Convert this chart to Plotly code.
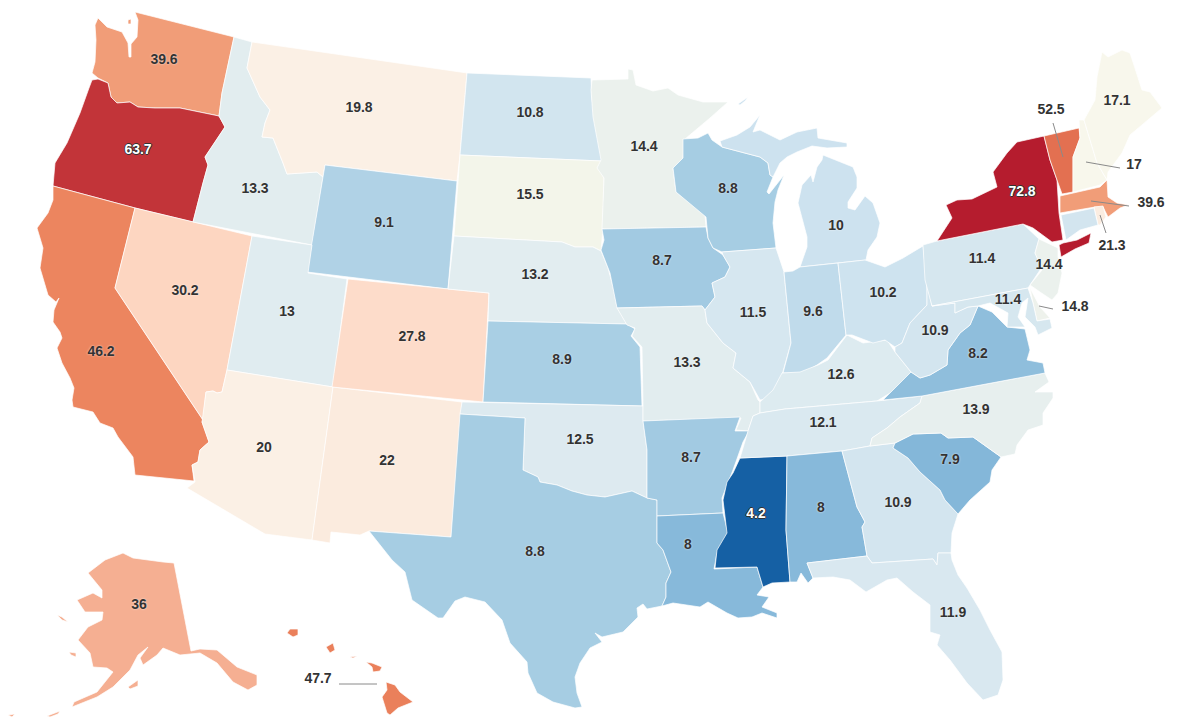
import plotly.graph_objects as go
from plotly.colors import sample_colorscale

# no topojson available offline, so the outlines are traced from the picture (page pixels)
state_codes = ["WA", "OR", "CA", "NV", "ID", "MT", "WY", "UT", "AZ", "NM", "CO", "ND", "SD", "NE", "KS", "OK", "TX",
               "MN", "IA", "MO", "AR", "LA", "WI", "IL", "MS", "MI", "IN", "KY", "TN", "AL", "OH", "GA", "FL", "SC",
               "NC", "VA", "WV", "PA", "NY", "VT", "NH", "ME", "MA", "RI", "CT", "NJ", "DE", "MD", "AK", "HI"]
state_values = [39.6, 63.7, 46.2, 30.2, 13.3, 19.8, 9.1, 13, 20, 22, 27.8, 10.8, 15.5, 13.2, 8.9, 12.5, 8.8,
                14.4, 8.7, 13.3, 8.7, 8, 8.8, 11.5, 4.2, 10, 9.6, 12.6, 12.1, 8, 10.2, 10.9, 11.9, 7.9,
                13.9, 8.2, 10.9, 11.4, 72.8, 52.5, 17, 17.1, 39.6, 21.3, 11, 14.4, 14.8, 11.4, 36, 47.7]
# Connecticut has no label in the picture, its value is only a guess from the colour
unlabelled = ["CT"]
label_x = [164, 138, 101, 185, 255, 359, 384, 287, 264, 387, 412, 530, 530, 535, 562, 580, 535,
           644, 662, 687, 691, 688, 728, 753, 756, 836, 813, 841, 823, 821, 883, 898, 953, 950,
           976, 978, 935, 982, 1022, 1051, 1134, 1117, 1151, 1112, 0, 1049, 1075, 1008, 139, 318]
label_y = [60, 150, 352, 291, 189, 108, 223, 312, 448, 461, 337, 113, 195, 275, 360, 440, 552,
           147, 261, 363, 458, 545, 189, 313, 514, 226, 312, 375, 423, 508, 293, 503, 613, 460,
           410, 354, 331, 259, 192, 110, 165, 101, 203, 246, 0, 265, 307, 300, 605, 679]
white_labels = ["OR", "NY", "MS"]

scale_values = [4.2, 8, 8.8, 10, 13, 15.5, 17, 20, 30, 36, 40, 46, 53, 64, 72.8]
scale_colors = ["rgb(21,96,164)", "rgb(135,185,218)", "rgb(166,205,227)", "rgb(205,226,239)", "rgb(224,236,240)",
                "rgb(243,245,234)", "rgb(248,247,236)", "rgb(251,240,229)", "rgb(253,215,195)", "rgb(245,175,146)",
                "rgb(241,155,117)", "rgb(236,134,95)", "rgb(226,110,80)", "rgb(193,50,56)", "rgb(181,28,46)"]

leaders = {
    "VT": [(1053, 123), (1063, 157)],
    "NH": [(1086, 162), (1120, 168)],
    "MA": [(1091, 201), (1129, 206)],
    "RI": [(1100, 215), (1106, 233)],
    "DE": [(1039, 306), (1053, 309)],
    "HI": [(339, 684), (377, 684)],
}

outlines = {
    "WA": [[(98, 18), (107, 27), (122, 32), (128, 43), (129, 57), (131, 57), (131, 44), (137, 37), (138, 20), (135, 12),
            (234, 37), (222, 93), (219, 116), (180, 108), (155, 108), (138, 107), (130, 102), (117, 103), (111, 97),
            (108, 83), (98, 78), (92, 73), (95, 62), (96, 40), (95, 25)],
           [(128, 20), (131, 19), (131, 24), (128, 24)]],
    "OR": [[(92, 80), (98, 79), (108, 83), (111, 97), (117, 103), (130, 102), (138, 107), (155, 108), (180, 108),
            (219, 116), (225, 127), (215, 142), (205, 157), (208, 165), (203, 183), (193, 222), (135, 208), (53, 186),
            (55, 163), (67, 143), (80, 113), (89, 88)]],
    "CA": [[(53, 186), (135, 208), (115, 288), (203, 420), (202, 422), (209, 442), (200, 450), (198, 462), (192, 465),
            (194, 481), (135, 475), (133, 457), (118, 437), (113, 428), (100, 423), (93, 412), (73, 407), (72, 400),
            (74, 388), (70, 378), (62, 363), (57, 348), (62, 338), (60, 332), (53, 322), (54, 310), (59, 298), (56, 302),
            (48, 295), (40, 268), (43, 248), (37, 228), (48, 213), (53, 200)]],
    "NV": [[(135, 208), (193, 222), (252, 236), (227, 370), (222, 392), (217, 393), (213, 391), (206, 392), (203, 420),
            (115, 288)]],
    "ID": [[(234, 37), (252, 42), (247, 68), (260, 97), (270, 110), (265, 123), (262, 137), (273, 138), (283, 163),
            (287, 174), (317, 172), (323, 177), (312, 245), (193, 222), (203, 183), (208, 165), (205, 157), (215, 142),
            (225, 127), (219, 116), (222, 93)]],
    "MT": [[(252, 42), (467, 73), (460, 155), (457, 181), (325, 165), (323, 177), (317, 172), (287, 174), (283, 163),
            (273, 138), (262, 137), (265, 123), (270, 110), (260, 97), (247, 68)]],
    "WY": [[(325, 165), (457, 181), (448, 289), (307, 272)]],
    "UT": [[(252, 236), (312, 245), (308, 273), (347, 279), (333, 387), (227, 370)]],
    "AZ": [[(227, 370), (333, 387), (312, 540), (265, 534), (187, 488), (195, 482), (192, 465), (198, 462), (200, 450),
            (209, 442), (202, 422), (206, 392), (213, 391), (217, 393), (222, 392)]],
    "NM": [[(333, 387), (462, 402), (461, 415), (451, 537), (369, 531), (360, 535), (331, 532), (330, 543), (312, 540)]],
    "CO": [[(348, 279), (448, 289), (489, 293), (483, 402), (332, 387)]],
    "ND": [[(467, 73), (591, 78), (592, 100), (597, 120), (602, 150), (602, 161), (460, 155)]],
    "SD": [[(460, 155), (602, 161), (598, 167), (604, 178), (603, 228), (602, 238), (601, 251), (593, 247), (575, 247),
            (562, 242), (454, 236)]],
    "NE": [[(454, 236), (562, 242), (575, 247), (593, 247), (601, 251), (608, 268), (613, 287), (617, 307), (627, 324),
            (488, 321), (489, 293), (448, 289)]],
    "KS": [[(488, 321), (627, 324), (635, 329), (631, 336), (640, 347), (642, 406), (483, 402)]],
    "OK": [[(462, 402), (643, 406), (643, 420), (647, 450), (647, 498), (632, 491), (605, 497), (587, 495), (572, 491),
            (557, 485), (540, 482), (538, 477), (523, 470), (525, 418), (460, 414)]],
    "TX": [[(460, 414), (525, 418), (523, 470), (538, 477), (540, 482), (557, 485), (572, 491), (587, 495), (605, 497),
            (632, 491), (647, 498), (657, 500), (657, 543), (663, 550), (671, 572), (666, 583), (666, 597), (662, 606),
            (647, 609), (643, 604), (637, 608), (638, 617), (623, 632), (602, 637), (595, 633), (602, 642), (590, 648),
            (580, 663), (575, 677), (577, 693), (582, 707), (575, 708), (553, 702), (537, 693), (528, 673), (527, 662),
            (510, 643), (502, 620), (485, 602), (465, 597), (455, 601), (443, 618), (438, 618), (412, 600), (405, 572),
            (392, 560), (369, 531), (451, 537)]],
    "MN": [[(592, 80), (628, 79), (628, 69), (633, 70), (636, 85), (653, 91), (668, 88), (678, 95), (703, 102), (728, 102),
            (710, 118), (685, 139), (683, 158), (673, 168), (676, 192), (705, 215), (706, 227), (602, 229), (604, 178),
            (597, 168), (601, 160), (593, 117), (591, 90)]],
    "IA": [[(602, 229), (706, 227), (708, 238), (713, 248), (723, 255), (730, 267), (725, 277), (712, 283), (715, 297),
            (705, 310), (702, 306), (617, 308), (610, 273), (601, 250), (604, 240)]],
    "MO": [[(617, 308), (702, 306), (705, 310), (707, 323), (723, 343), (736, 353), (733, 368), (750, 382), (758, 400),
            (760, 402), (760, 413), (753, 416), (748, 431), (736, 430), (741, 418), (643, 421), (643, 406), (642, 347),
            (632, 336), (635, 328), (627, 325)]],
    "AR": [[(643, 421), (740, 417), (735, 431), (749, 431), (743, 442), (733, 470), (722, 498), (723, 513), (657, 516),
            (657, 500), (647, 498), (647, 450)]],
    "LA": [[(657, 516), (723, 513), (728, 533), (717, 553), (714, 569), (757, 567), (763, 587), (757, 595), (769, 597),
            (762, 607), (777, 613), (777, 618), (762, 613), (752, 617), (738, 618), (727, 613), (708, 602), (700, 607),
            (673, 603), (662, 606), (666, 597), (666, 583), (671, 572), (663, 550), (657, 543)]],
    "WI": [[(683, 139), (698, 138), (708, 133), (712, 140), (722, 147), (760, 157), (768, 163), (770, 175), (773, 177),
            (767, 192), (769, 194), (783, 176), (784, 175), (778, 190), (775, 202), (773, 223), (776, 248), (722, 252),
            (713, 248), (708, 238), (706, 217), (676, 192), (673, 168), (683, 158)]],
    "IL": [[(722, 252), (776, 248), (784, 272), (791, 343), (782, 375), (780, 388), (773, 398), (760, 400), (750, 382),
            (733, 368), (736, 353), (723, 343), (707, 323), (705, 310), (715, 297), (712, 283), (725, 277), (730, 267),
            (723, 255)]],
    "MS": [[(740, 458), (787, 456), (786, 530), (790, 582), (772, 583), (763, 587), (757, 567), (715, 568), (717, 550),
            (727, 533), (723, 500), (727, 482), (733, 473)]],
    "MI": [[(720, 141), (737, 135), (750, 127), (760, 115), (753, 132), (760, 130), (780, 140), (797, 132), (817, 128),
            (818, 138), (847, 143), (847, 147), (827, 148), (812, 146), (797, 152), (787, 157), (780, 163), (773, 177),
            (770, 175), (768, 163), (760, 157), (722, 147)],
           [(823, 155), (853, 167), (857, 177), (857, 188), (848, 202), (848, 208), (855, 210), (865, 196), (873, 203),
            (880, 223), (877, 237), (868, 250), (866, 260), (838, 263), (800, 267), (807, 247), (807, 237), (798, 203),
            (802, 185), (811, 175), (813, 182), (817, 167), (822, 160)],
           [(738, 104), (748, 97), (745, 101), (740, 105)]],
    "IN": [[(784, 272), (793, 271), (800, 267), (838, 263), (846, 335), (827, 358), (817, 365), (803, 373), (783, 373),
            (791, 343)]],
    "KY": [[(760, 413), (760, 402), (773, 390), (782, 373), (800, 372), (818, 365), (828, 360), (847, 335), (863, 343),
            (887, 340), (895, 352), (911, 372), (890, 393), (877, 401), (785, 409)]],
    "TN": [[(760, 413), (785, 409), (877, 401), (922, 396), (920, 403), (900, 417), (887, 428), (872, 438), (870, 446),
            (842, 451), (787, 456), (740, 458), (748, 431), (753, 416)]],
    "AL": [[(787, 456), (842, 451), (857, 507), (865, 522), (862, 527), (867, 556), (807, 563), (813, 578), (808, 583),
            (801, 573), (797, 582), (790, 582), (786, 530)]],
    "OH": [[(838, 263), (865, 260), (885, 267), (903, 258), (923, 246), (927, 282), (927, 305), (910, 323), (902, 343),
            (895, 347), (885, 340), (873, 343), (852, 335), (846, 335)]],
    "GA": [[(842, 451), (870, 446), (895, 443), (893, 448), (908, 458), (920, 472), (940, 490), (945, 500), (958, 514),
            (952, 533), (951, 553), (938, 553), (937, 565), (933, 559), (872, 563), (867, 556), (862, 527), (865, 522),
            (857, 507)]],
    "FL": [[(807, 563), (867, 556), (872, 563), (933, 559), (937, 565), (938, 553), (951, 553), (952, 560), (958, 575),
            (967, 588), (980, 610), (990, 630), (1002, 652), (1003, 680), (998, 695), (983, 700), (967, 683), (950, 660),
            (937, 645), (940, 635), (930, 632), (930, 605), (913, 592), (897, 578), (887, 580), (866, 592), (850, 580),
            (833, 577), (813, 578)]],
    "SC": [[(895, 443), (913, 434), (941, 433), (948, 438), (973, 437), (1001, 457), (992, 470), (990, 482), (970, 500),
            (958, 514), (945, 500), (940, 490), (920, 472), (908, 458), (893, 448)]],
    "NC": [[(1045, 373), (1049, 382), (1035, 392), (1053, 392), (1053, 398), (1043, 413), (1043, 425), (1028, 430),
            (1017, 445), (1015, 454), (1001, 457), (973, 437), (948, 438), (941, 433), (913, 434), (895, 443), (870, 446),
            (872, 438), (887, 428), (900, 417), (920, 403), (922, 396)]],
    "VA": [[(911, 372), (920, 378), (930, 375), (947, 365), (948, 350), (960, 333), (970, 325), (978, 306), (992, 312),
            (1007, 327), (1025, 329), (1030, 350), (1027, 360), (1043, 363), (1045, 373), (922, 396), (883, 400), (890, 393)]],
    "WV": [[(927, 283), (932, 306), (955, 303), (955, 313), (968, 307), (978, 306), (970, 325), (960, 333), (948, 350),
            (947, 365), (930, 375), (920, 378), (911, 372), (895, 352), (895, 347), (902, 343), (910, 323), (927, 305)]],
    "PA": [[(923, 245), (937, 241), (1023, 224), (1039, 239), (1035, 253), (1042, 267), (1028, 288), (932, 306), (925, 280)]],
    "NY": [[(937, 241), (952, 218), (946, 205), (957, 200), (972, 199), (997, 187), (993, 172), (1007, 153), (1017, 142),
            (1044, 136), (1050, 160), (1057, 180), (1059, 213), (1063, 240), (1052, 242), (1033, 228), (1023, 224)],
           [(1059, 245), (1063, 243), (1077, 240), (1091, 233), (1089, 243), (1075, 249), (1061, 257)]],
    "VT": [[(1044, 136), (1079, 128), (1080, 138), (1073, 157), (1073, 192), (1062, 194), (1057, 180), (1050, 160)]],
    "NH": [[(1079, 120), (1084, 120), (1097, 163), (1107, 180), (1100, 185), (1073, 192), (1073, 157), (1080, 138)]],
    "ME": [[(1102, 52), (1108, 57), (1122, 50), (1130, 53), (1142, 90), (1150, 92), (1162, 108), (1148, 120), (1130, 135),
            (1122, 153), (1108, 172), (1107, 180), (1097, 163), (1084, 120), (1095, 100), (1097, 77)]],
    "MA": [[(1060, 196), (1100, 187), (1107, 180), (1108, 197), (1117, 203), (1128, 205), (1120, 208), (1113, 213),
            (1108, 217), (1103, 207), (1095, 207), (1060, 213)]],
    "RI": [[(1094, 207), (1103, 206), (1106, 217), (1100, 225), (1098, 225)]],
    "CT": [[(1061, 215), (1094, 208), (1098, 225), (1080, 230), (1066, 240)]],
    "NJ": [[(1039, 239), (1058, 248), (1058, 257), (1062, 273), (1058, 293), (1052, 300), (1040, 292), (1030, 285),
            (1042, 270), (1035, 253)]],
    "DE": [[(1030, 288), (1040, 307), (1050, 318), (1037, 321), (1033, 303)]],
    "MD": [[(932, 306), (1028, 288), (1033, 303), (1037, 321), (1050, 319), (1052, 328), (1038, 335), (1035, 327),
            (1025, 317), (1028, 298), (1022, 303), (1018, 317), (1025, 327), (1007, 327), (1008, 313), (990, 303),
            (978, 306), (968, 307), (955, 313), (955, 303)]],
    "AK": [[(123, 553), (133, 558), (163, 562), (174, 563), (191, 651), (200, 649), (217, 650), (237, 667), (257, 675),
            (257, 685), (248, 690), (233, 682), (217, 663), (200, 653), (180, 655), (163, 648), (157, 655), (143, 665),
            (140, 658), (148, 647), (138, 655), (130, 670), (113, 687), (97, 697), (72, 707), (74, 702), (97, 692),
            (113, 672), (107, 668), (93, 667), (90, 653), (78, 640), (88, 627), (102, 620), (103, 612), (85, 612),
            (77, 600), (93, 593), (102, 598), (102, 590), (88, 573), (105, 560)],
           [(57, 615), (62, 617), (68, 622), (62, 620)],
           [(69, 652), (76, 653), (76, 657), (71, 655)],
           [(128, 687), (138, 680), (138, 686), (130, 689)],
           [(47, 716), (60, 711), (58, 714), (50, 717)],
           [(8, 715), (15, 714), (12, 717)]],
    "HI": [[(287, 633), (290, 629), (298, 629), (298, 635), (293, 637)],
           [(326, 647), (333, 643), (335, 650), (330, 653)],
           [(350, 657), (357, 656), (353, 658)],
           [(366, 662), (372, 663), (382, 667), (380, 671), (373, 672), (372, 667)],
           [(386, 682), (395, 685), (400, 692), (413, 702), (398, 708), (390, 715), (387, 713), (382, 697), (387, 690)]],
}


def value_colors(values):
    low, high = scale_values[0], scale_values[-1]
    scale = [[(v - low) / (high - low), c] for v, c in zip(scale_values, scale_colors)]
    return sample_colorscale(scale, [(v - low) / (high - low) for v in values])


fig = go.Figure()

for code, color in zip(state_codes, value_colors(state_values)):
    xs, ys = [], []
    for part in outlines[code]:
        xs += [p[0] for p in part] + [part[0][0], None]
        ys += [p[1] for p in part] + [part[0][1], None]
    fig.add_trace(go.Scatter(x=xs, y=ys, mode="lines", fill="toself", fillcolor=color,
                             line=dict(color="white", width=0.7), name=code, hoverinfo="name"))

line_x, line_y = [], []
for start, end in leaders.values():
    line_x += [start[0], end[0], None]
    line_y += [start[1], end[1], None]
fig.add_trace(go.Scatter(x=line_x, y=line_y, mode="lines", line=dict(color="#8a8a8a", width=1), hoverinfo="skip"))

dark = [i for i, c in enumerate(state_codes) if c not in white_labels and c not in unlabelled]
light = [i for i, c in enumerate(state_codes) if c in white_labels]
fig.add_trace(go.Scatter(x=[label_x[i] for i in dark], y=[label_y[i] for i in dark],
                         text=[f"{state_values[i]:g}" for i in dark], mode="text", hoverinfo="skip",
                         textfont=dict(family="Liberation Sans", size=14, color="#333333", weight="bold",
                                       shadow="0 0 2px rgba(255,255,255,0.8)")))
fig.add_trace(go.Scatter(x=[label_x[i] for i in light], y=[label_y[i] for i in light],
                         text=[f"{state_values[i]:g}" for i in light], mode="text", hoverinfo="skip",
                         textfont=dict(family="Liberation Sans", size=14, color="white", weight="bold",
                                       shadow="-1px 0 #333, 1px 0 #333, 0 1px #333, 0 -1px #333")))

fig.update_layout(
    width=1200,
    height=720,
    margin=dict(l=0, r=0, t=0, b=0),
    paper_bgcolor="white",
    plot_bgcolor="white",
    showlegend=False,
    xaxis=dict(range=[0, 1200], visible=False, fixedrange=True),
    yaxis=dict(range=[720, 0], visible=False, fixedrange=True),
)
fig.write_html("out.html", config={"displayModeBar": False},
               post_script="document.body.style.margin='0';document.body.style.overflow='hidden';")
